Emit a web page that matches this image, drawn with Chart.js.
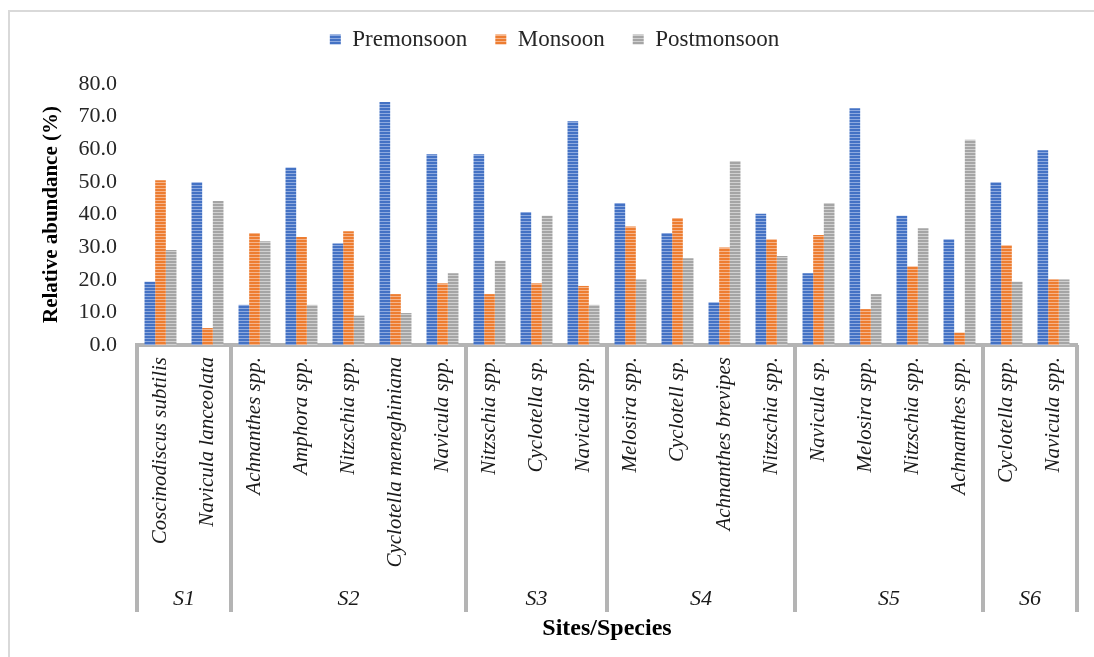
<!DOCTYPE html>
<html lang="en">
<head>
    <meta charset="UTF-8">
    <title>Relative abundance by site</title>
    <script src="https://cdn.jsdelivr.net/npm/chart.js"></script>
    <style>
        body { margin: 0; background: #fff; }
    </style>
</head>
<body>
    <canvas id="abundanceChart" width="1094" height="657"></canvas>
    <script>
        // species in plotting order, with the site each block belongs to
        const species = [
            "Coscinodiscus subtilis", "Navicula lanceolata",
            "Achnanthes spp.", "Amphora spp.", "Nitzschia spp.", "Cyclotella meneghiniana", "Navicula spp.",
            "Nitzschia spp.", "Cyclotella sp.", "Navicula spp.",
            "Melosira spp.", "Cyclotell sp.", "Achnanthes brevipes", "Nitzschia spp.",
            "Navicula sp.", "Melosira spp.", "Nitzschia spp.", "Achnanthes spp.",
            "Cyclotella spp.", "Navicula spp."
        ];
        const sites = ["S1", "S2", "S3", "S4", "S5", "S6"];
        const speciesPerSite = [2, 5, 3, 4, 4, 2];

        const premonsoon  = [19.4, 49.9, 12.3, 54.4, 31.1, 74.5, 58.5, 58.5, 40.8, 68.6, 43.5, 34.3, 13.1, 40.2, 22.0, 72.6, 39.6, 32.4, 49.9, 59.7];
        const monsoon     = [50.5, 5.2, 34.3, 33.1, 34.9, 15.6, 18.9, 15.6, 18.9, 18.1, 36.3, 38.9, 29.9, 32.4, 33.7, 11.0, 24.1, 3.8, 30.6, 20.1];
        const postmonsoon = [29.1, 44.1, 31.8, 12.3, 9.0, 9.8, 22.0, 25.8, 39.6, 12.3, 20.1, 26.6, 56.4, 27.3, 43.5, 15.6, 35.8, 62.9, 19.4, 20.1];

        const yTicks = [0, 10, 20, 30, 40, 50, 60, 70, 80];

        const serif = "'Liberation Serif', 'Times New Roman', serif";

        // striped fill like the excel pattern bars
        function stripes(base, light) {
            const c = document.createElement('canvas');
            c.width = 4; c.height = 3;
            const g = c.getContext('2d');
            g.fillStyle = base;
            g.fillRect(0, 0, 4, 3);
            g.fillStyle = light;
            g.fillRect(0, 2, 4, 1);
            return g.createPattern(c, 'repeat');
        }

        const frame = {
            id: 'frame',
            beforeDraw(chart) {
                const ctx = chart.ctx;
                ctx.save();
                ctx.strokeStyle = '#d9d9d9';
                ctx.lineWidth = 2;
                ctx.beginPath();
                ctx.moveTo(9, chart.height);
                ctx.lineTo(9, 11);
                ctx.lineTo(chart.width, 11);
                ctx.stroke();
                ctx.restore();
            }
        };

        // leave extra room under the legend, and nudge it a bit right
        const legendGap = {
            id: 'legendGap',
            beforeLayout(chart) {
                const lg = chart.legend;
                if (!lg || lg._gapPatched) return;
                const fit = lg.fit;
                lg.fit = function () {
                    fit.call(this);
                    this.height += 23;
                };
                lg._gapPatched = true;
            },
            afterLayout(chart) {
                const lg = chart.legend;
                if (!lg) return;
                lg.left += 11;
                lg.right += 11;
            }
        };

        // site dividers and site names under the species labels
        const siteRow = {
            id: 'siteRow',
            afterDraw(chart) {
                const x = chart.scales.x;
                const ctx = chart.ctx;
                const top = chart.chartArea.bottom;
                const bottom = top + 267;
                const edge = i => {
                    if (i <= 0) return chart.chartArea.left;
                    if (i >= species.length) return chart.chartArea.right;
                    return (x.getPixelForValue(i - 1) + x.getPixelForValue(i)) / 2;
                };
                ctx.save();
                ctx.strokeStyle = '#b4b4b4';
                ctx.lineWidth = 4;
                ctx.fillStyle = '#1a1a1a';
                ctx.font = 'italic 22px ' + serif;
                ctx.textAlign = 'center';
                ctx.textBaseline = 'middle';
                let start = 0;
                sites.forEach((s, k) => {
                    const end = start + speciesPerSite[k];
                    const x0 = edge(start), x1 = edge(end);
                    ctx.beginPath();
                    ctx.moveTo(x0, top);
                    ctx.lineTo(x0, bottom);
                    ctx.stroke();
                    if (k === sites.length - 1) {
                        ctx.beginPath();
                        ctx.moveTo(x1, top);
                        ctx.lineTo(x1, bottom);
                        ctx.stroke();
                    }
                    ctx.fillText(s, (x0 + x1) / 2, top + 254);
                    start = end;
                });
                ctx.restore();
            }
        };

        const ctx = document.getElementById('abundanceChart').getContext('2d');
        new Chart(ctx, {
            type: 'bar',
            data: {
                labels: species,
                datasets: [
                    { label: 'Premonsoon', data: premonsoon, backgroundColor: stripes('#4472C4', '#8EAADF') },
                    { label: 'Monsoon', data: monsoon, backgroundColor: stripes('#ED7D31', '#F6B48A') },
                    { label: 'Postmonsoon', data: postmonsoon, backgroundColor: stripes('#A5A5A5', '#D0D0D0') }
                ]
            },
            options: {
                responsive: false,
                animation: false,
                devicePixelRatio: 1,
                layout: { padding: { left: 10, right: 17, top: 0, bottom: 0 } },
                datasets: { bar: { categoryPercentage: 0.68, barPercentage: 1 } },
                plugins: {
                    legend: {
                        position: 'top',
                        labels: {
                            boxWidth: 11,
                            boxHeight: 10,
                            padding: 28,
                            color: '#262626',
                            font: { family: serif, size: 23 }
                        }
                    },
                    tooltip: { enabled: false }
                },
                scales: {
                    x: {
                        grid: { display: false, drawTicks: false },
                        border: { display: true, color: '#b4b4b4', width: 4 },
                        ticks: {
                            autoSkip: false,
                            minRotation: 90,
                            maxRotation: 90,
                            padding: 12,
                            color: '#1a1a1a',
                            font: { family: serif, size: 21, style: 'italic' }
                        },
                        title: {
                            display: true,
                            text: 'Sites/Species',
                            color: '#000',
                            font: { family: serif, size: 24, weight: 'bold' },
                            padding: { top: 0, bottom: 14 }
                        },
                        afterFit(s) { s.height = 312; }
                    },
                    y: {
                        min: 0,
                        max: 80,
                        afterBuildTicks(s) { s.ticks = yTicks.map(v => ({ value: v })); },
                        grid: { display: false, drawTicks: false },
                        border: { display: false },
                        ticks: {
                            padding: 20,
                            color: '#262626',
                            font: { family: serif, size: 22 },
                            callback: v => v.toFixed(1)
                        },
                        title: {
                            display: true,
                            text: 'Relative abundance (%)',
                            color: '#000',
                            font: { family: serif, size: 21, weight: 'bold' },
                            padding: { top: 29, bottom: 0 }
                        },
                        afterFit(s) { s.width = 127; }
                    }
                }
            },
            plugins: [frame, legendGap, siteRow]
        });
    </script>
</body>
</html>
